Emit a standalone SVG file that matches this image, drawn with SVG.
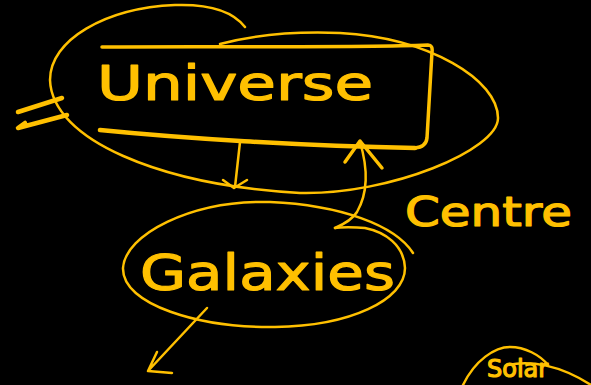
<svg xmlns="http://www.w3.org/2000/svg" width="591" height="385" viewBox="0 0 591 385">
<style>
.ln{fill:none;stroke:#FFC000;stroke-linecap:round;stroke-linejoin:round}
.thin{stroke-width:2.5}
.mid{stroke-width:3.5}
.thick{stroke-width:4.5}
.hw{fill:#FFC000;stroke:#FFC000;stroke-width:1.2;stroke-linejoin:round;font-family:"DejaVu Sans",sans-serif}
</style>
<rect width="591" height="385" fill="#000"/>
<g id="universe">
<path class="ln thin" d="M245,27 C232,10 205,4 175,5 C105,8 50,40 50,80 C52,140 160,185 300,193 C390,195 498,150 498,118 C498,80 430,38 340,33 C290,31 250,36 220,44"/>
<path class="ln mid" d="M102,47 C200,46 350,48 428,45 Q433,45 432,52 L427,138 Q426,147 415,148"/>
<path class="ln thick" d="M100,130 C180,138 300,146 415,148"/>
<path class="ln thick" d="M18,112 L62,98 M25,123 L18,128 L67,115"/>
<text class="hw" x="97" y="100" font-size="48" textLength="276" lengthAdjust="spacingAndGlyphs">Universe</text>
</g>
<g id="galaxies">
<path class="ln thin" d="M413,253 C395,225 340,205 270,202 C190,200 125,235 123,268 C122,305 200,328 275,327 C350,326 405,300 405,268 C404,245 385,232 365,228 C355,227 340,227 335,228"/>
<text class="hw" x="140" y="290" font-size="50" textLength="255" lengthAdjust="spacingAndGlyphs">Galaxies</text>
</g>
<g id="centre">
<text class="hw" x="405" y="226" font-size="40" textLength="167" lengthAdjust="spacingAndGlyphs">Centre</text>
</g>
<g id="solar">
<path class="ln thin" d="M463,385 C475,360 495,347 510,347 C525,347 540,355 548,365"/>
<path class="ln thin" d="M508,365 C530,360 560,365 591,385"/>
<text class="hw" x="487" y="377" font-size="24">Solar</text>
</g>
<g id="connectors">
<path class="ln thin" d="M240,142 L235,187 M223,180 L234,188 L247,180"/>
<path class="ln thin" d="M335,228 C342,225 352,220 357,212 C365,198 370,175 360,142"/>
<path class="ln mid" d="M345,162 L360,141 L382,168"/>
<path class="ln thin" d="M207,308 L148,371 M157,352 L148,371 L172,373"/>
</g>
</svg>
